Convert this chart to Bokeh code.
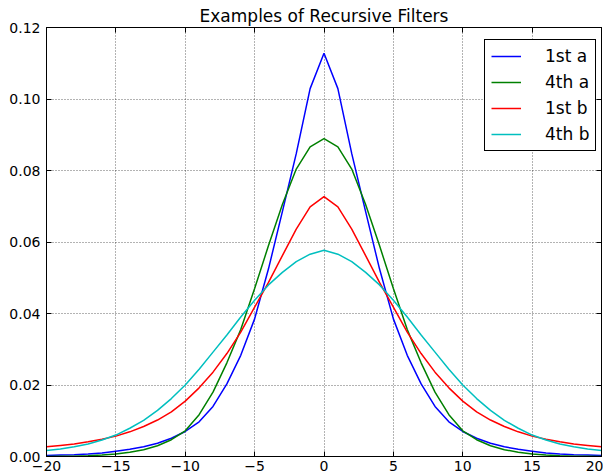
from bokeh.plotting import figure
from bokeh.models import Range1d, FixedTicker, LinearAxis, PrintfTickFormatter, Legend, LegendItem
from bokeh.embed import file_html
from bokeh.resources import INLINE

# ---- data ----
x = list(range(-20, 21))

first_a = [0.0003, 0.0004, 0.0005, 0.0007, 0.0010, 0.0015, 0.0020, 0.0027, 0.0037, 0.0051,
           0.0070, 0.0097, 0.0140, 0.0203, 0.0283, 0.0385, 0.0525, 0.0685, 0.0847, 0.1029,
           0.1128,
           0.1029, 0.0847, 0.0685, 0.0525, 0.0385, 0.0283, 0.0203, 0.0140, 0.0097, 0.0070,
           0.0051, 0.0037, 0.0027, 0.0020, 0.0015, 0.0010, 0.0007, 0.0005, 0.0004, 0.0003]

fourth_a = [0.0000, 0.0001, 0.0001, 0.0002, 0.0004, 0.0007, 0.0012, 0.0019, 0.0030, 0.0047,
            0.0072, 0.0117, 0.0180, 0.0262, 0.0355, 0.0470, 0.0590, 0.0705, 0.0804, 0.0866,
            0.0889,
            0.0866, 0.0804, 0.0705, 0.0590, 0.0470, 0.0355, 0.0262, 0.0180, 0.0117, 0.0072,
            0.0047, 0.0030, 0.0019, 0.0012, 0.0007, 0.0004, 0.0002, 0.0001, 0.0001, 0.0000]

first_b = [0.0027, 0.0031, 0.0035, 0.0041, 0.0048, 0.0057, 0.0069, 0.0084, 0.0102, 0.0125,
           0.0155, 0.0192, 0.0236, 0.0288, 0.0348, 0.0418, 0.0487, 0.0562, 0.0636, 0.0698,
           0.0727,
           0.0698, 0.0636, 0.0562, 0.0487, 0.0418, 0.0348, 0.0288, 0.0236, 0.0192, 0.0155,
           0.0125, 0.0102, 0.0084, 0.0069, 0.0057, 0.0048, 0.0041, 0.0035, 0.0031, 0.0027]

fourth_b = [0.0017, 0.0021, 0.0027, 0.0035, 0.0046, 0.0060, 0.0079, 0.0101, 0.0129, 0.0162,
            0.0200, 0.0244, 0.0292, 0.0340, 0.0390, 0.0437, 0.0480, 0.0515, 0.0545, 0.0566,
            0.0577,
            0.0566, 0.0545, 0.0515, 0.0480, 0.0437, 0.0390, 0.0340, 0.0292, 0.0244, 0.0200,
            0.0162, 0.0129, 0.0101, 0.0079, 0.0060, 0.0046, 0.0035, 0.0027, 0.0021, 0.0017]

series_names = ["1st a", "4th a", "1st b", "4th b"]
series_colors = ["#0000ff", "#008000", "#ff0000", "#00bfbf"]

x_ticks = [-20, -15, -10, -5, 0, 5, 10, 15, 20]
y_ticks = [0.0, 0.02, 0.04, 0.06, 0.08, 0.10, 0.12]
x_tick_labels = {t: (str(t).replace("-", "\u2212")) for t in x_ticks}

FONT = "DejaVu Sans"

p = figure(width=603, height=476, output_backend="svg", toolbar_location=None,
           x_range=Range1d(-20, 20), y_range=Range1d(0, 0.12),
           min_border_left=46, min_border_right=2, min_border_top=27, min_border_bottom=20,
           title="Examples of Recursive Filters")

p.title.align = "center"
p.title.text_font = FONT
p.title.text_font_size = "17px"
p.title.text_font_style = "normal"
p.title.text_color = "black"
p.title.standoff = 3

p.background_fill_color = "white"
p.border_fill_color = "white"
p.outline_line_color = "black"
p.outline_line_width = 1
p.outline_line_alpha = 1

xt = FixedTicker(ticks=x_ticks)
yt = FixedTicker(ticks=y_ticks)

xa = p.xaxis[0]
xa.ticker = xt
xa.major_label_overrides = x_tick_labels
ya = p.yaxis[0]
ya.ticker = yt
ya.formatter = PrintfTickFormatter(format="%.2f")

for ax in (xa, ya):
    ax.major_tick_in = 5
    ax.major_tick_out = 0
    ax.minor_tick_line_color = None
    ax.axis_line_color = "black"
    ax.major_tick_line_color = "black"
    ax.major_label_text_font = FONT
    ax.major_label_text_font_size = "14px"
    ax.major_label_text_color = "black"
xa.major_label_standoff = 4
ya.major_label_standoff = 6

# ticks on top and right (no labels)
top = LinearAxis(ticker=FixedTicker(ticks=x_ticks), major_tick_in=5, major_tick_out=0,
                 minor_tick_line_color=None, major_label_standoff=0,
                 major_label_overrides={t: "" for t in x_ticks}, axis_line_color="black")
right = LinearAxis(ticker=FixedTicker(ticks=y_ticks), major_tick_in=5, major_tick_out=0,
                   minor_tick_line_color=None, major_label_standoff=0,
                   major_label_overrides={t: "" for t in y_ticks}, axis_line_color="black")
p.add_layout(top, "above")
p.add_layout(right, "right")

p.xgrid.ticker = xt
p.ygrid.ticker = yt
for g in (p.xgrid[0], p.ygrid[0]):
    g.grid_line_color = "black"
    g.grid_line_alpha = 0.6
    g.grid_line_dash = "1 2"
    g.grid_line_width = 1

items = []
for name, col, ys in zip(series_names, series_colors, [first_a, fourth_a, first_b, fourth_b]):
    r = p.line(x, ys, line_color=col, line_width=1.5)
    items.append(LegendItem(label=name, renderers=[r]))

legend = Legend(items=items, location=(438, 305))
legend.label_text_font = FONT
legend.label_text_font_size = "17px"
legend.label_text_color = "black"
legend.border_line_color = "black"
legend.border_line_width = 1
legend.border_line_alpha = 1
legend.background_fill_color = "white"
legend.background_fill_alpha = 1
legend.padding = 6
legend.spacing = 6
legend.glyph_width = 30
legend.glyph_height = 18
legend.label_height = 18
legend.label_standoff = 24
legend.margin = 0
p.add_layout(legend, "center")

open("out.html", "w").write(file_html(p, INLINE))
